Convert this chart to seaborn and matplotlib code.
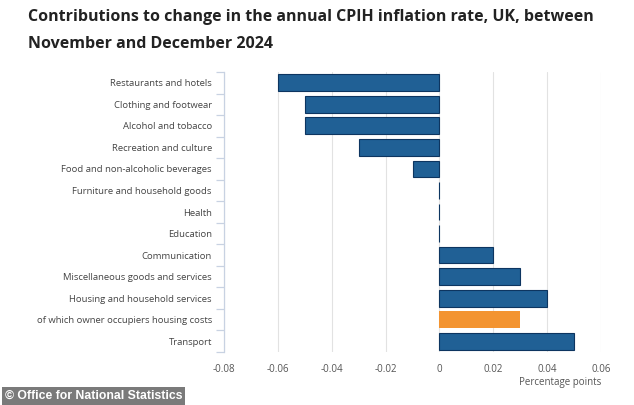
import matplotlib
matplotlib.use("Agg")
import matplotlib.pyplot as plt
import seaborn as sns
import pandas as pd
import numpy as np

categories = [
    "Restaurants and hotels",
    "Clothing and footwear",
    "Alcohol and tobacco",
    "Recreation and culture",
    "Food and non-alcoholic beverages",
    "Furniture and household goods",
    "Health",
    "Education",
    "Communication",
    "Miscellaneous goods and services",
    "Housing and household services",
    "of which owner occupiers housing costs",
    "Transport",
]
values = [-0.06, -0.05, -0.05, -0.03, -0.01, -0.0003, -0.0003, -0.0003,
          0.02, 0.03, 0.04, 0.03, 0.05]
bar_type = ["main"] * 11 + ["sub"] + ["main"]
xticks = [-0.08, -0.06, -0.04, -0.02, 0, 0.02, 0.04, 0.06]
xtick_labels = ["-0.08", "-0.06", "-0.04", "-0.02", "0", "0.02", "0.04", "0.06"]

df = pd.DataFrame({"category": categories, "value": values, "type": bar_type})

sns.set_style("white")
plt.rcParams["font.family"] = ["Open Sans", "DejaVu Sans"]

fig = plt.figure(figsize=(6.34, 4.05), dpi=100)
ax = fig.add_axes([224 / 634, 1 - 352 / 405, (601 - 224) / 634, (352 - 72) / 405])

palette = {"main": "#206095", "sub": "#F39431"}
sns.barplot(data=df, y="category", x="value", hue="type", palette=palette,
            order=categories, dodge=False, width=0.78, legend=False, ax=ax,
            saturation=1)
for p in ax.patches:
    fc = p.get_facecolor()
    if abs(fc[0] - 0x20 / 255) < 0.02:
        p.set_edgecolor("#0d3560")
        p.set_linewidth(0.8)
    else:
        p.set_edgecolor("none")

ax.set_xlim(-0.08, 0.06)
ax.set_ylim(len(categories) - 0.5, -0.5)
ax.set_xticks(xticks)
ax.set_xticklabels(xtick_labels)
ax.set_xlabel("")
ax.set_ylabel("")
ax.grid(axis="x", color="#e2e2e2", linewidth=0.8)
ax.set_axisbelow(True)

for s in ["top", "right", "bottom"]:
    ax.spines[s].set_visible(False)
ax.spines["left"].set_color("#c8d2e2")
ax.spines["left"].set_linewidth(0.9)
ax.spines["left"].set_zorder(3)

ax.tick_params(axis="x", length=0, labelsize=7, labelcolor="#555555", pad=9)
ax.tick_params(axis="y", which="major", left=False, length=0, labelsize=6.8,
               labelcolor="#444444", pad=8.8)
ax.set_yticks(np.arange(-0.5, len(categories), 1), minor=True)
ax.tick_params(axis="y", which="minor", left=True, length=6, color="#c8d2e2", width=0.9)

fig.text(601 / 634, 1 - 383 / 405, "Percentage points", ha="right", va="center",
         fontsize=7, color="#555555")

fig.text(28 / 634, 1 - 17 / 405,
         "Contributions to change in the annual CPIH inflation rate, UK, between",
         ha="left", va="center", fontsize=11.5, fontweight="bold", color="#222222")
fig.text(28 / 634, 1 - 44 / 405, "November and December 2024",
         ha="left", va="center", fontsize=11.5, fontweight="bold", color="#222222")

fig.text(5 / 634, 1 - 396 / 405, "© Office for National Statistics", ha="left",
         va="center", fontsize=8.8, fontweight="bold", color="white",
         family=["Liberation Sans", "DejaVu Sans"],
         bbox=dict(boxstyle="square,pad=0.22", facecolor="#7a7a7a", edgecolor="none"))

fig.savefig("out.png", dpi=100)
